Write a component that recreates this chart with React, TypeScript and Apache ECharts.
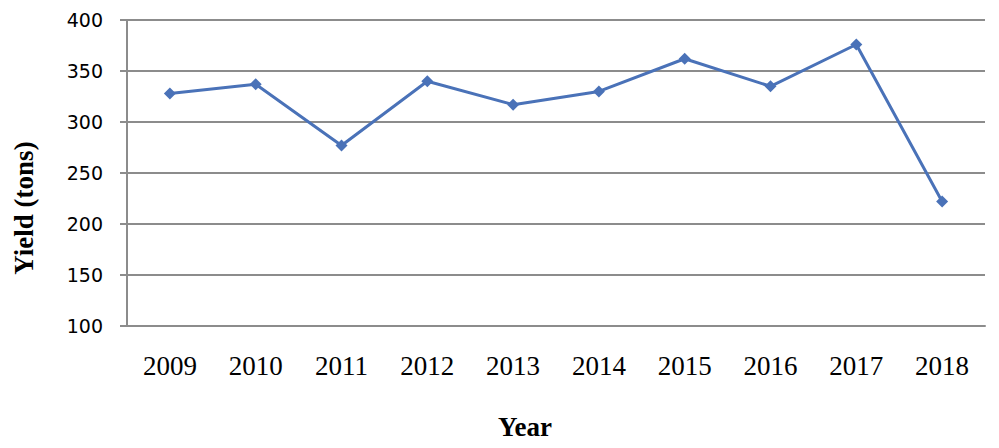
import React, { useEffect, useRef } from "react";
import * as echarts from "echarts";

const years = ["2009", "2010", "2011", "2012", "2013", "2014", "2015", "2016", "2017", "2018"];
const yieldTons = [328, 337, 277, 340, 317, 330, 362, 335, 376, 222];
const xTitle = "Year";
const yTitle = "Yield (tons)";

export default function App() {
  const ref = useRef<HTMLDivElement>(null);
  useEffect(() => {
    if (!ref.current) return;
    const chart = echarts.init(ref.current, null, { renderer: "svg" });
    chart.setOption({
      animation: false,
      backgroundColor: "#ffffff",
      grid: { left: 127, right: 14, top: 20, bottom: 122, containLabel: false },
      graphic: [
        {
          type: "text",
          x: 24,
          y: 208,
          rotation: Math.PI / 2,
          style: {
            text: yTitle,
            fontFamily: "Liberation Serif",
            fontWeight: "bold",
            fontSize: 27,
            fill: "#000",
            align: "center",
            verticalAlign: "middle",
          },
        },
        {
          type: "text",
          x: 525,
          y: 427,
          style: {
            text: xTitle,
            fontFamily: "Liberation Serif",
            fontWeight: "bold",
            fontSize: 27,
            fill: "#000",
            align: "center",
            verticalAlign: "middle",
          },
        },
      ],
      xAxis: {
        type: "category",
        data: years,
        boundaryGap: true,
        axisLine: { lineStyle: { color: "#8c8c8c", width: 2 } },
        axisTick: { show: false },
        axisLabel: { fontFamily: "Liberation Serif", fontSize: 27, color: "#000", margin: 26 },
      },
      yAxis: {
        type: "value",
        min: 100,
        max: 400,
        interval: 50,
        axisLine: { show: true, lineStyle: { color: "#8c8c8c", width: 2 } },
        axisTick: { show: true, inside: false, length: 7, lineStyle: { color: "#8c8c8c", width: 2 } },
        axisLabel: { fontFamily: "DejaVu Sans", fontSize: 19, color: "#000", margin: 24 },
        splitLine: { show: true, lineStyle: { color: "#8c8c8c", width: 2 } },
      },
      series: [
        {
          type: "line",
          data: yieldTons,
          symbol: "diamond",
          symbolSize: 12,
          lineStyle: { color: "#4a72b8", width: 3 },
          itemStyle: { color: "#4a72b8" },
        },
      ],
    });
    return () => chart.dispose();
  }, []);
  return (
    <div
      ref={ref}
      style={{ position: "fixed", left: 0, top: 0, width: 999, height: 448, background: "#fff" }}
    />
  );
}
